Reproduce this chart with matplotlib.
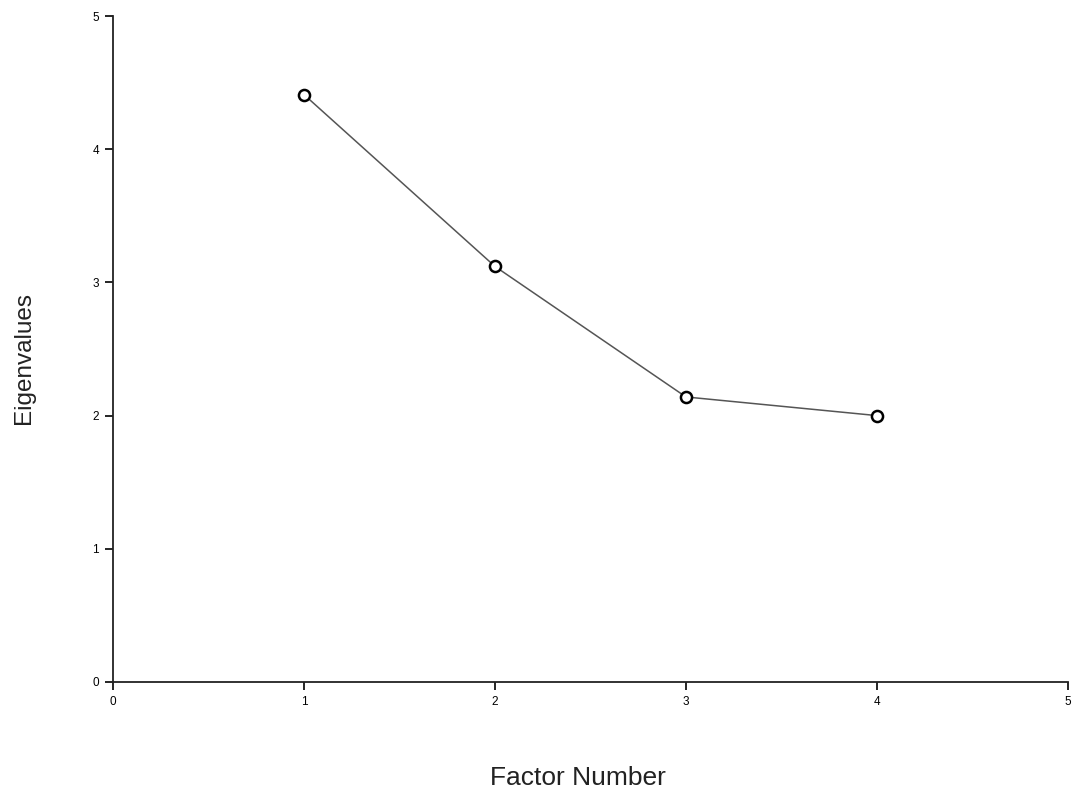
import numpy as np
import matplotlib.pyplot as plt

plt.rcParams['font.family'] = ['Liberation Sans', 'DejaVu Sans']

# scree plot data
factors = [1, 2, 3, 4]
eigenvalues = [4.41, 3.12, 2.14, 2.00]
xticks = [0, 1, 2, 3, 4, 5]
yticks = [0, 1, 2, 3, 4, 5]

fig = plt.figure(figsize=(10.73, 7.93), dpi=100)
ax = fig.add_axes([0.1053, 0.1400, 0.89, 0.8398])

ax.plot(factors, eigenvalues, color='#555555', linewidth=1.1, zorder=2)
ax.plot(factors, eigenvalues, linestyle='none', marker='o', markersize=8,
        markerfacecolor='white', markeredgecolor='black', markeredgewidth=1.8, zorder=3)

ax.set_xlim(0, 5)
ax.set_ylim(0, 5)
ax.set_xticks(xticks)
ax.set_yticks(yticks)
ax.tick_params(direction='out', length=6, width=1.2, labelsize=8.5, pad=4, colors='black')

for side in ['top', 'right']:
    ax.spines[side].set_visible(False)
for side in ['left', 'bottom']:
    ax.spines[side].set_linewidth(1.3)
    ax.spines[side].set_color('#222222')

fig.text(0.539, 0.004, 'Factor Number', ha='center', va='bottom', fontsize=19, color='#222222')
fig.text(0.022, 0.549, 'Eigenvalues', ha='center', va='center', rotation=90, fontsize=17.5, color='#222222')

fig.savefig('out.png', dpi=100)
